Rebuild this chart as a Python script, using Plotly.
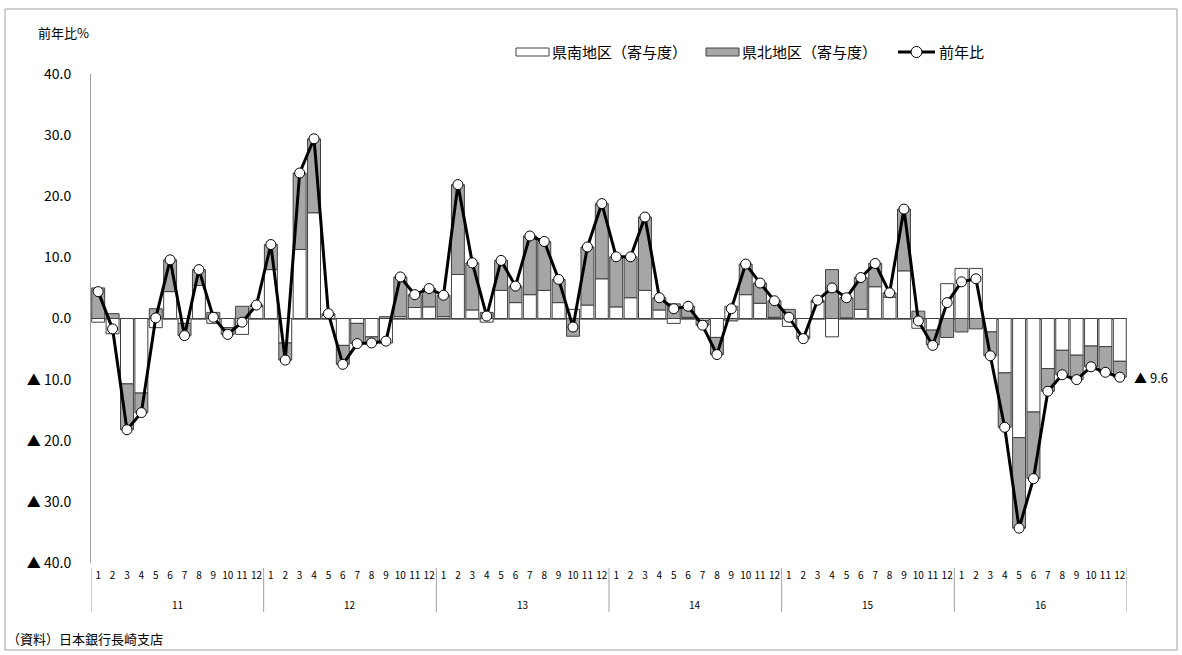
import plotly.graph_objects as go

years = ["11", "12", "13", "14", "15", "16"]
months = [str(m) for m in range(1, 13)]

# 県南地区（寄与度）
south = [
    -0.6, -2.5, -10.7, -12.2, -1.5, 4.4, -0.8, 5.4, -0.8, -1.5, -2.6, 2.0,
    8.0, -4.0, 11.3, 17.3, 0.5, -4.4, -0.8, -3.0, -4.0, 0.3, 1.8, 1.9,
    0.3, 7.2, 1.4, -0.6, 4.6, 2.6, 3.9, 4.6, 2.6, 1.5, 2.2, 6.5,
    1.9, 3.4, 4.6, 1.4, -0.8, 0.2, -0.3, -3.1, 2.0, 3.9, 2.5, 0.2,
    -1.3, -2.9, 2.7, -3.0, 0.1, 1.5, 5.2, 3.5, 7.8, -1.6, -1.9, 5.7,
    8.2, 8.2, -2.2, -8.9, -19.5, -15.3, -8.2, -5.2, -6.0, -4.5, -4.6, -7.0,
]
# 県北地区（寄与度）
north = [
    5.0, 0.8, -7.5, -3.2, 1.6, 5.2, -2.0, 2.6, 1.0, -1.1, 2.0, 0.2,
    4.1, -2.8, 12.5, 12.1, 0.3, -3.1, -3.3, -1.0, 0.3, 6.5, 2.1, 3.0,
    3.5, 14.7, 7.7, 1.0, 4.9, 2.7, 9.6, 8.0, 3.8, -2.9, 9.5, 12.3,
    8.2, 6.7, 12.0, 2.0, 2.4, 1.8, -0.8, -2.8, -0.4, 5.0, 3.3, 2.7,
    1.5, -0.4, 0.3, 8.0, 3.3, 5.2, 3.8, 0.7, 10.1, 1.2, -2.4, -3.1,
    -2.2, -1.7, -3.9, -8.9, -14.8, -10.9, -3.7, -4.0, -4.0, -3.4, -4.2, -2.6,
]
# 前年比
total = [
    4.4, -1.7, -18.2, -15.4, 0.1, 9.6, -2.8, 8.0, 0.2, -2.6, -0.6, 2.2,
    12.1, -6.8, 23.8, 29.4, 0.8, -7.5, -4.1, -4.0, -3.7, 6.8, 3.9, 4.9,
    3.8, 21.9, 9.1, 0.4, 9.5, 5.3, 13.5, 12.6, 6.4, -1.4, 11.7, 18.8,
    10.1, 10.1, 16.6, 3.4, 1.6, 2.0, -1.1, -5.9, 1.6, 8.9, 5.8, 2.9,
    0.2, -3.3, 3.0, 5.0, 3.4, 6.7, 9.0, 4.2, 17.9, -0.4, -4.4, 2.6,
    6.0, 6.5, -6.1, -17.8, -34.3, -26.2, -11.9, -9.2, -10.0, -7.9, -8.8, -9.6,
]

series_names = ["県南地区（寄与度）", "県北地区（寄与度）", "前年比"]
y_ticks = [40, 30, 20, 10, 0, -10, -20, -30, -40]


def fmt(v):
    return f"{v:.1f}" if v >= 0 else f"▲ {abs(v):.1f}"


n = len(years) * len(months)
x = list(range(n))
month_labels = [m for _ in years for m in months]

FONT = "Noto Sans CJK JP, Noto Sans, sans-serif"
SOUTH_FILL, NORTH_FILL, EDGE = "#ffffff", "#a6a6a6", "#404040"

fig = go.Figure()
fig.add_trace(go.Bar(
    x=x, y=south, name=series_names[0], showlegend=False,
    marker=dict(color=SOUTH_FILL, line=dict(color=EDGE, width=1)),
))
fig.add_trace(go.Bar(
    x=x, y=north, name=series_names[1], showlegend=False,
    marker=dict(color=NORTH_FILL, line=dict(color=EDGE, width=1)),
))
fig.add_trace(go.Scatter(
    x=x, y=total, name=series_names[2], mode="lines+markers", showlegend=False,
    line=dict(color="#000000", width=3),
    marker=dict(symbol="circle", size=10, color="#ffffff",
                line=dict(color="#000000", width=1)),
))

W, H = 1182, 655
L, R, T, B = 91, 55, 74, 92
pw, ph = W - L - R, H - T - B


def px_x(px):
    return (px - L) / pw


def px_y(py):
    return (H - B - py) / ph


shapes = []
# year dividers on the category axis
for k in range(len(years) + 1):
    shapes.append(dict(type="line", xref="x", yref="paper",
                       x0=k * 12 - 0.5, x1=k * 12 - 0.5,
                       y0=px_y(568), y1=px_y(612),
                       line=dict(color="#a0a0a0", width=1)))
# chart-area border
shapes.append(dict(type="rect", xref="paper", yref="paper",
                   x0=px_x(5), x1=px_x(1177), y0=px_y(650), y1=px_y(9),
                   line=dict(color="#a0a0a0", width=1), fillcolor="rgba(0,0,0,0)",
                   layer="below"))

# legend (drawn as swatches + text to match the wide Excel swatches)
LEG_Y = 52
shapes.append(dict(type="rect", xref="paper", yref="paper",
                   x0=px_x(516), x1=px_x(549), y0=px_y(LEG_Y + 4), y1=px_y(LEG_Y - 4),
                   line=dict(color=EDGE, width=1), fillcolor=SOUTH_FILL))
shapes.append(dict(type="rect", xref="paper", yref="paper",
                   x0=px_x(706), x1=px_x(739), y0=px_y(LEG_Y + 4), y1=px_y(LEG_Y - 4),
                   line=dict(color=EDGE, width=1), fillcolor=NORTH_FILL))
shapes.append(dict(type="line", xref="paper", yref="paper",
                   x0=px_x(898), x1=px_x(935), y0=px_y(LEG_Y), y1=px_y(LEG_Y),
                   line=dict(color="#000000", width=3)))
shapes.append(dict(type="circle", xref="paper", yref="paper",
                   x0=px_x(911), x1=px_x(922), y0=px_y(LEG_Y + 5.5), y1=px_y(LEG_Y - 5.5),
                   line=dict(color="#000000", width=1), fillcolor="#ffffff"))

annotations = []
for px0, name in zip([550, 740, 937], series_names):
    annotations.append(dict(x=px_x(px0), y=px_y(LEG_Y), xref="paper", yref="paper",
                            text=name, showarrow=False, xanchor="left", yanchor="middle",
                            font=dict(size=15, color="#000")))
for k, yr in enumerate(years):
    annotations.append(dict(x=k * 12 + 5.5, y=px_y(604), xref="x", yref="paper",
                            text=yr, showarrow=False, font=dict(size=10, color="#000"),
                            xanchor="center", yanchor="middle"))
annotations.append(dict(x=px_x(36), y=px_y(32), xref="paper", yref="paper",
                        text="前年比%", showarrow=False, xanchor="left", yanchor="middle",
                        font=dict(size=13, color="#000")))
annotations.append(dict(x=px_x(5), y=px_y(638), xref="paper", yref="paper",
                        text="（資料）日本銀行長崎支店", showarrow=False, xanchor="left",
                        yanchor="middle", font=dict(size=13, color="#000")))
annotations.append(dict(x=x[-1], y=total[-1], xref="x", yref="y",
                        text=fmt(total[-1]), showarrow=False, xanchor="left",
                        yanchor="middle", xshift=12, font=dict(size=13, color="#000")))

fig.update_layout(
    width=W, height=H,
    margin=dict(l=L, r=R, t=T, b=B, autoexpand=False),
    paper_bgcolor="#ffffff", plot_bgcolor="#ffffff",
    font=dict(family=FONT, color="#000000"),
    barmode="relative", bargap=0.1,
    showlegend=False,
    xaxis=dict(range=[-0.5, n - 0.5], tickmode="array", tickvals=x, ticktext=month_labels,
               tickfont=dict(size=10), showline=False, showgrid=False, zeroline=False,
               ticks="", ticklabelstandoff=5),
    yaxis=dict(range=[-40, 40], tickmode="array", tickvals=y_ticks,
               ticktext=[fmt(v) for v in y_ticks], tickfont=dict(size=14),
               showline=True, linecolor="#a0a0a0", linewidth=1, showgrid=False,
               zeroline=True, zerolinecolor="#808080", zerolinewidth=1.5,
               ticks="", ticklabelstandoff=16),
    shapes=shapes, annotations=annotations,
)

fig.write_html("out.html", config={"displayModeBar": False},
               post_script="document.body.style.margin='0px';")
